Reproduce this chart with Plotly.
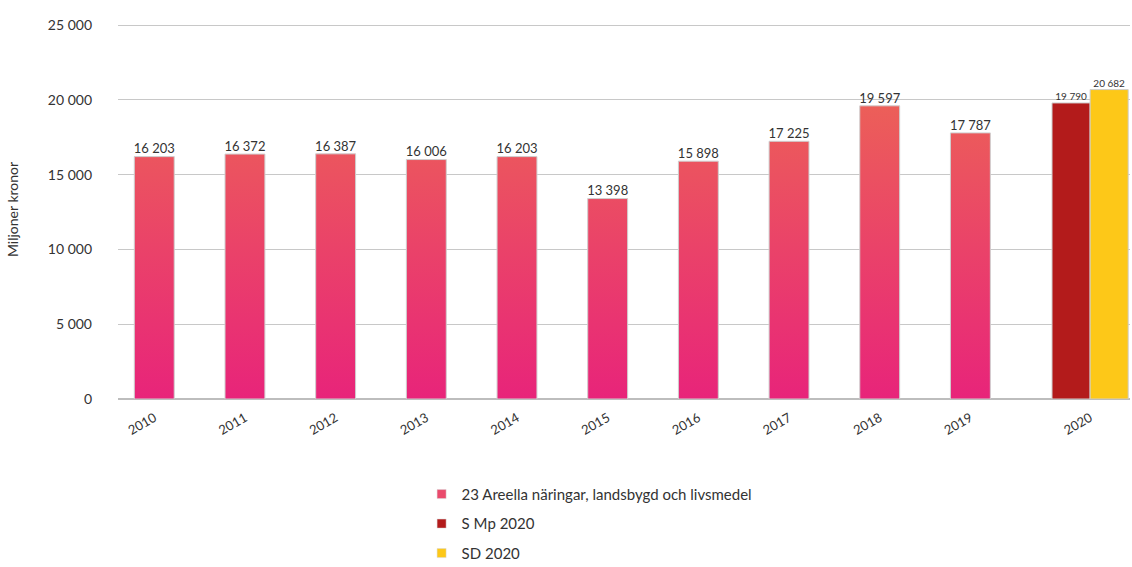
import plotly.graph_objects as go

years = ["2010", "2011", "2012", "2013", "2014", "2015", "2016", "2017", "2018", "2019"]
outcome = [16203, 16372, 16387, 16006, 16203, 13398, 15898, 17225, 19597, 17787]
year_2020 = "2020"
s_mp_2020 = 19790
sd_2020 = 20682
series_names = ["23 Areella näringar, landsbygd och livsmedel", "S Mp 2020", "SD 2020"]
y_ticks = [0, 5000, 10000, 15000, 20000, 25000]

FONT = "Lato"
TXT = "#333333"
PINK = "#E8247A"
CORAL = "#EC6058"
MID = "#EA4A6C"
RED = "#B31B1B"
YELLOW = "#FDC818"
EDGE = "#cfcfcf"

bar_w = 0.44
positions = list(range(len(years)))
pos_2020 = len(years) - 1 + 1.32


def fmt(v):
    return f"{v:,}".replace(",", " ")


# gradient bars as filled polygons (built from the data values)
xs, ys = [], []
for p, v in zip(positions, outcome):
    l, r = p - bar_w / 2, p + bar_w / 2
    xs += [l, l, r, r, l, None]
    ys += [0, v, v, 0, 0, None]

fig = go.Figure()
fig.add_trace(go.Scatter(
    x=xs, y=ys, mode="lines", fill="toself",
    line=dict(color=EDGE, width=1),
    fillgradient=dict(type="vertical", colorscale=[[0, PINK], [1, CORAL]], start=0, stop=20000),
    showlegend=False, hoverinfo="skip",
))
fig.add_trace(go.Scatter(
    x=positions, y=outcome, mode="text", text=[fmt(v) for v in outcome],
    textposition="top center", textfont=dict(family=FONT, size=13, color=TXT),
    showlegend=False, hoverinfo="skip", cliponaxis=False,
))
fig.add_trace(go.Bar(
    x=[pos_2020], y=[s_mp_2020], width=0.42, offset=-0.42,
    marker=dict(color=RED, line=dict(color=EDGE, width=1)),
    showlegend=False,
))
fig.add_trace(go.Bar(
    x=[pos_2020], y=[sd_2020], width=0.42, offset=0,
    marker=dict(color=YELLOW, line=dict(color=EDGE, width=1)),
    showlegend=False,
))
fig.add_trace(go.Scatter(
    x=[pos_2020 - 0.21, pos_2020 + 0.21], y=[s_mp_2020, sd_2020], mode="text",
    text=[fmt(s_mp_2020), fmt(sd_2020)], textposition="top center",
    textfont=dict(family=FONT, size=10, color=TXT),
    showlegend=False, hoverinfo="skip", cliponaxis=False,
))

# legend entries
for name, col in zip(series_names, [MID, RED, YELLOW]):
    fig.add_trace(go.Scatter(
        x=[None], y=[None], mode="markers", name=name, legendgroup=name,
        marker=dict(symbol="square", size=9, color=col, line=dict(color="#d8d8d8", width=0.5)),
    ))

fig.update_layout(
    width=1132, height=567,
    margin=dict(l=118, r=2, t=20, b=168, autoexpand=False),
    paper_bgcolor="white", plot_bgcolor="white",
    separators=", ",
    barmode="overlay",
    font=dict(family=FONT, size=13, color=TXT),
    showlegend=True,
    legend=dict(
        x=0.300, y=-0.208, xanchor="left", yanchor="top",
        font=dict(family=FONT, size=15, color=TXT),
        tracegroupgap=7, traceorder="grouped", itemwidth=30,
    ),
    xaxis=dict(
        range=[-0.4, 10.76], automargin=False,
        tickvals=positions + [pos_2020], ticktext=years + [year_2020],
        tickangle=-30, tickfont=dict(family=FONT, size=13, color=TXT),
        showgrid=False, zeroline=False, showline=False, ticks="",
        ticklabelstandoff=8,
    ),
    yaxis=dict(
        range=[0, 25334], tickvals=y_ticks, automargin=False,
        tickformat=",d",
        showgrid=True, gridcolor="#c8c8c8", gridwidth=1,
        zeroline=True, zerolinecolor="#bdbdbd", zerolinewidth=1.5,
        showline=False, ticks="", ticklabelstandoff=25,
        tickfont=dict(family=FONT, size=14, color=TXT),
        title=dict(text="Miljoner kronor", font=dict(family=FONT, size=14, color=TXT), standoff=25),
    ),
)

fig.write_html("out.html", config={"displayModeBar": False},
               post_script="document.body.style.margin='0';")
